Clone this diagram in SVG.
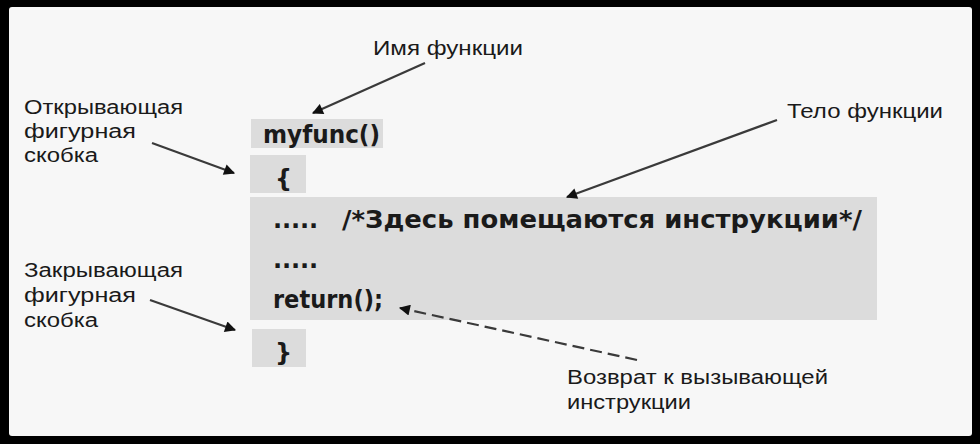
<svg xmlns="http://www.w3.org/2000/svg" width="980" height="444" viewBox="0 0 980 444">
<style>
.lbl{font-family:"Liberation Sans",Arial,sans-serif;font-size:20px;fill:#1a1a1a}
.code{font-family:"DejaVu Sans",Verdana,sans-serif;font-weight:bold;font-size:24px;fill:#1a1a1a}
.blk{fill:#dcdcdc}
.arr{stroke:#3a3a3a;stroke-width:2.2;fill:none;marker-end:url(#ah)}
.dash{stroke-dasharray:12 6}
</style>
<defs>
<marker id="ah" viewBox="0 0 10 10" refX="9" refY="5" markerWidth="6" markerHeight="5" orient="auto" markerUnits="strokeWidth">
<path d="M0,0 L10,5 L0,10 z" fill="#111"/>
</marker>
</defs>
<rect x="0" y="0" width="980" height="444" fill="#000"/>
<rect x="9" y="7" width="963" height="429" rx="3" fill="#f7f7f7"/>

<g id="code">
<g id="myfunc"><rect class="blk" x="251" y="119" width="132" height="29"/><text class="code" x="263" y="143" textLength="117" lengthAdjust="spacingAndGlyphs">myfunc()</text></g>
<g id="open-brace"><rect class="blk" x="250" y="155" width="56" height="38"/><text class="code" x="275" y="187" font-size="28" font-weight="normal">{</text></g>
<g id="body"><rect class="blk" x="250" y="197" width="627" height="123"/>
<text class="code" x="273" y="228" font-size="20" textLength="45" lengthAdjust="spacing">.....</text>
<text class="code" x="342" y="228" textLength="520" lengthAdjust="spacingAndGlyphs">/*Здесь помещаются инструкции*/</text>
<text class="code" x="273" y="268" font-size="20" textLength="45" lengthAdjust="spacing">.....</text>
<text class="code" x="273" y="308" textLength="110" lengthAdjust="spacingAndGlyphs">return();</text>
</g>
<g id="close-brace"><rect class="blk" x="252" y="329" width="54" height="38"/><text class="code" x="275" y="361" font-size="28" font-weight="normal">}</text></g>
</g>

<g id="label-name"><text class="lbl" x="373" y="55" textLength="150" lengthAdjust="spacingAndGlyphs">Имя функции</text></g>
<g id="label-open"><text class="lbl" x="24" y="114" textLength="159" lengthAdjust="spacingAndGlyphs">Открывающая</text><text class="lbl" x="24" y="138" textLength="112" lengthAdjust="spacingAndGlyphs">фигурная</text><text class="lbl" x="24" y="162" textLength="74" lengthAdjust="spacingAndGlyphs">скобка</text></g>
<g id="label-body"><text class="lbl" x="787" y="118" textLength="156" lengthAdjust="spacingAndGlyphs">Тело функции</text></g>
<g id="label-close"><text class="lbl" x="24" y="277" textLength="159" lengthAdjust="spacingAndGlyphs">Закрывающая</text><text class="lbl" x="24" y="302" textLength="112" lengthAdjust="spacingAndGlyphs">фигурная</text><text class="lbl" x="24" y="327" textLength="74" lengthAdjust="spacingAndGlyphs">скобка</text></g>
<g id="label-return"><text class="lbl" x="567" y="384" textLength="261" lengthAdjust="spacingAndGlyphs">Возврат к вызывающей</text><text class="lbl" x="567" y="409" textLength="124" lengthAdjust="spacingAndGlyphs">инструкции</text></g>

<g id="connectors">
<line class="arr" x1="425" y1="63" x2="313" y2="113"/>
<line class="arr" x1="152" y1="143" x2="234" y2="173"/>
<line class="arr" x1="777" y1="120" x2="567" y2="197"/>
<line class="arr" x1="150" y1="300" x2="235" y2="330"/>
<line class="arr dash" x1="637" y1="360" x2="400" y2="308"/>
</g>
</svg>
